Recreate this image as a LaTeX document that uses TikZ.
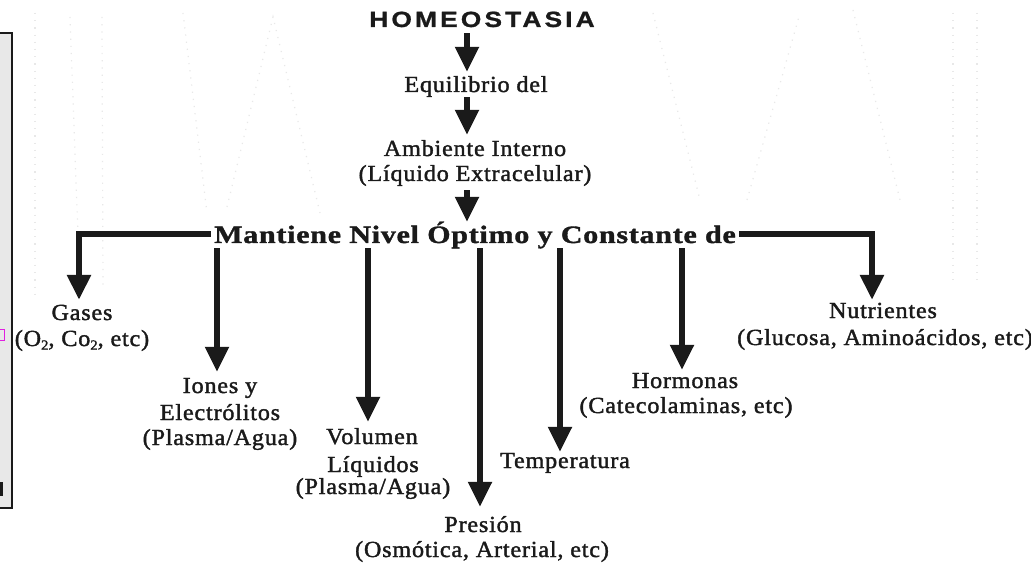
\documentclass[tikz,border=0pt]{standalone}
\usepackage{fontspec}
\usetikzlibrary{arrows.meta}
\setmainfont{Liberation Serif}
\newfontfamily\labelfont[LetterSpace=3.5,FakeStretch=1.05,FakeBold=1.6]{Liberation Serif}
\newfontfamily\headfont[LetterSpace=3,FakeStretch=1.2,FakeBold=1.4]{Liberation Serif Bold}
\newfontfamily\titlefont[LetterSpace=14,FakeStretch=1.2,FakeBold=1]{Liberation Sans Bold}
\newcommand{\sub}[1]{\raisebox{-0.35ex}{\fontsize{14}{14}\selectfont #1}}
\definecolor{ink}{HTML}{1A1A1A}
\definecolor{panel}{HTML}{E8E8E8}
\definecolor{pinkmark}{HTML}{E020E0}

\tikzset{
  lbl/.style={inner sep=0pt, anchor=base, text=ink, text height=15pt, text depth=5pt,
    font=\labelfont\fontsize{23}{26}\selectfont},
  headline/.style={inner xsep=3pt, inner ysep=0pt, anchor=base, text=ink, text height=16pt, text depth=5pt,
    font=\headfont\fontsize{25}{28}\selectfont},
  titlelbl/.style={inner sep=0pt, anchor=base, text=ink, text depth=0pt,
    font=\titlefont\fontsize{22}{24}\selectfont},
  arr/.style={draw=ink, line width=5.5pt, -{Triangle[width=23pt,length=25pt]}},
  bracket/.style={draw=ink, line width=6pt, line join=miter, -{Triangle[width=23pt,length=25pt]}},
  wm/.style={draw=black!9, line width=1.2pt, dash pattern=on 1.2pt off 6pt},
}

\begin{document}
\begin{tikzpicture}[x=1pt,y=-1pt]
  \useasboundingbox (0,0) rectangle (1031,564);
  \fill[white] (0,0) rectangle (1031,564);

  % faint dotted lettering in the background
  \draw[wm] (35,13) -- (35,300);
  \draw[wm] (70,17) -- (80,290);
  \draw[wm] (102,17) -- (103,290);
  \draw[wm] (183,13) -- (207,213);
  \draw[wm] (227,207) -- (273,17) -- (320,213);
  \draw[wm] (653,13) -- (700,200);
  \draw[wm] (747,200) -- (800,13);
  \draw[wm] (853,10) -- (900,200);
  \draw[wm] (953,13) -- (953,280);
  \draw[wm] (977,13) -- (977,280);

  % edge of the neighbouring panel
  \fill[panel] (0,33) rectangle (12,508);
  \draw[ink, line width=1.2pt] (0,33) -- (12,33) -- (12,508) -- (0,508);
  \draw[pinkmark, line width=0.9pt] (-1,329) rectangle (4,340);
  \fill[ink] (0,482) rectangle (3,496);

  % column positions of the arrows
  \coordinate (xa) at (467,0);
  \coordinate (xg) at (79,0);
  \coordinate (xi) at (217,0);
  \coordinate (xv) at (368,0);
  \coordinate (xp) at (480,0);
  \coordinate (xt) at (560,0);
  \coordinate (xh) at (682,0);
  \coordinate (xn) at (872,0);

  % central chain
  \node[titlelbl] (homeo) at (482,27) {HOMEOSTASIA};
  \node[lbl] (equil) at (476,92) {Equilibrio del};
  \node[lbl] (amb) at (475,156) {Ambiente Interno};
  \node[lbl] (liq) at (475,181) {(Líquido Extracelular)};
  \node[headline] (main) at (475,243) {Mantiene Nivel Óptimo y Constante de};

  % regulated quantities
  \node[lbl] (gas1) at (82,320) {Gases};
  \node[lbl] (gas2) at (82,346) {(O\sub{2}, Co\sub{2}, etc)};
  \node[lbl] (ion1) at (220,393) {Iones y};
  \node[lbl] (ion2) at (220,420) {Electrólitos};
  \node[lbl] (ion3) at (220,445) {(Plasma/Agua)};
  \node[lbl] (vol1) at (372,444) {Volumen};
  \node[lbl] (vol2) at (373,472) {Líquidos};
  \node[lbl] (vol3) at (373,494) {(Plasma/Agua)};
  \node[lbl] (pre1) at (483,532) {Presión};
  \node[lbl] (pre2) at (482,557) {(Osmótica, Arterial, etc)};
  \node[lbl] (tem) at (565,468) {Temperatura};
  \node[lbl] (hor1) at (685,388) {Hormonas};
  \node[lbl] (hor2) at (686,413) {(Catecolaminas, etc)};
  \node[lbl] (nut1) at (883,318) {Nutrientes};
  \node[lbl] (nut2) at (885,345) {(Glucosa, Aminoácidos, etc)};

  % arrows of the central chain
  \draw[arr, shorten <=6pt, shorten >=5pt] (homeo.south -| xa) -- (equil.north -| xa);
  \draw[arr, shorten >=6pt] (equil.south -| xa) -- (amb.north -| xa);
  \draw[arr, shorten <=4pt, shorten >=5pt] (liq.south -| xa) -- (main.north -| xa);

  % side brackets
  \draw[bracket, shorten >=5pt] ([yshift=3.5pt]main.west) -| (xg |- gas1.north);
  \draw[bracket, shorten >=3pt] ([yshift=3.5pt]main.east) -| (xn |- nut1.north);

  % drops below the headline
  \draw[arr, shorten >=6pt] (xi |- main.south) -- (xi |- ion1.north);
  \draw[arr, shorten >=7pt] (xv |- main.south) -- (xv |- vol1.north);
  \draw[arr, shorten >=10pt] (xp |- main.south) -- (xp |- pre1.north);
  \draw[arr, shorten >=1pt] (xt |- main.south) -- (xt |- tem.north);
  \draw[arr, shorten >=3pt] (xh |- main.south) -- (xh |- hor1.north);
\end{tikzpicture}
\end{document}
